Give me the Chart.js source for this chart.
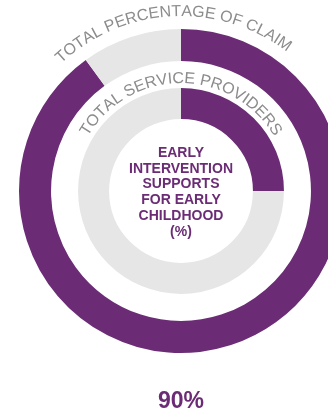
<!DOCTYPE html>
<html>
<head>
<meta charset="utf-8">
<script src="https://cdn.jsdelivr.net/npm/chart.js@4"></script>
<style>
  html, body { margin: 0; padding: 0; width: 328px; height: 412px; overflow: hidden; background: #ffffff; }
  #wrap { position: absolute; left: 0; top: 0; width: 362px; height: 412px; }
  #bottom { position: absolute; left: 0; width: 362px; top: 387px; text-align: center;
            font-family: "Liberation Sans", Arial, sans-serif; font-weight: bold; font-size: 23px; color: #6B2C75; }
</style>
</head>
<body>
<div id="wrap"><canvas id="c" width="362" height="412"></canvas></div>
<div id="bottom"></div>
<script>
// ---- data ----
const ringTitles = ['TOTAL PERCENTAGE OF CLAIM', 'TOTAL SERVICE PROVIDERS'];
const segmentLabels = ['Share', 'Remainder'];
const outerValues = [90, 10];   // total percentage of claim
const innerValues = [25, 75];   // total service providers
const centerLines = ['EARLY', 'INTERVENTION', 'SUPPORTS', 'FOR EARLY', 'CHILDHOOD', '(%)'];
const bottomLabel = '90%';

const PURPLE = '#6B2C75';
const GREY = '#E6E6E6';
const TEXT_GREY = '#8C8C8C';

document.getElementById('bottom').textContent = bottomLabel;

function drawArcText(ctx, text, cx, cy, r, centerAngle) {
  let total = 0;
  for (const ch of text) total += ctx.measureText(ch).width;
  let angle = centerAngle - total / (2 * r);
  for (const ch of text) {
    const w = ctx.measureText(ch).width;
    ctx.save();
    ctx.translate(cx, cy);
    ctx.rotate(angle + w / (2 * r));
    ctx.fillText(ch, 0, -r);
    ctx.restore();
    angle += w / r;
  }
}

const overlay = {
  id: 'overlay',
  afterDraw(chart) {
    const ctx = chart.ctx;
    const outerArc = chart.getDatasetMeta(0).data[0];
    const spacerArc = chart.getDatasetMeta(1).data[0];
    const cx = outerArc.x, cy = outerArc.y;
    ctx.save();
    ctx.fillStyle = TEXT_GREY;
    ctx.font = '16px "Liberation Sans", Arial, sans-serif';
    ctx.textAlign = 'center';
    ctx.textBaseline = 'alphabetic';
    drawArcText(ctx, ringTitles[0], cx, cy, outerArc.outerRadius + 13, -3 * Math.PI / 180);
    drawArcText(ctx, ringTitles[1], cx, cy, spacerArc.innerRadius + 5, 0);
    ctx.fillStyle = PURPLE;
    ctx.font = 'bold 14px "Liberation Sans", Arial, sans-serif';
    ctx.textBaseline = 'middle';
    const lh = 15.8;
    const start = cy + 1.5 - lh * (centerLines.length - 1) / 2;
    centerLines.forEach((l, i) => ctx.fillText(l, cx, start + i * lh));
    ctx.restore();
  }
};

new Chart(document.getElementById('c'), {
  type: 'doughnut',
  data: {
    labels: segmentLabels,
    datasets: [
      { data: outerValues, backgroundColor: [PURPLE, GREY], borderWidth: 0, weight: 32 },
      { data: [1], backgroundColor: ['rgba(0,0,0,0)'], borderWidth: 0, weight: 27 },
      { data: innerValues, backgroundColor: [PURPLE, GREY], borderWidth: 0, weight: 31 }
    ]
  },
  options: {
    responsive: false,
    animation: false,
    devicePixelRatio: 1,
    events: [],
    cutout: '44.4%',
    layout: { padding: { left: 19, right: 19, top: 29, bottom: 59 } },
    plugins: { legend: { display: false }, tooltip: { enabled: false } }
  },
  plugins: [overlay]
});
</script>
</body>
</html>
